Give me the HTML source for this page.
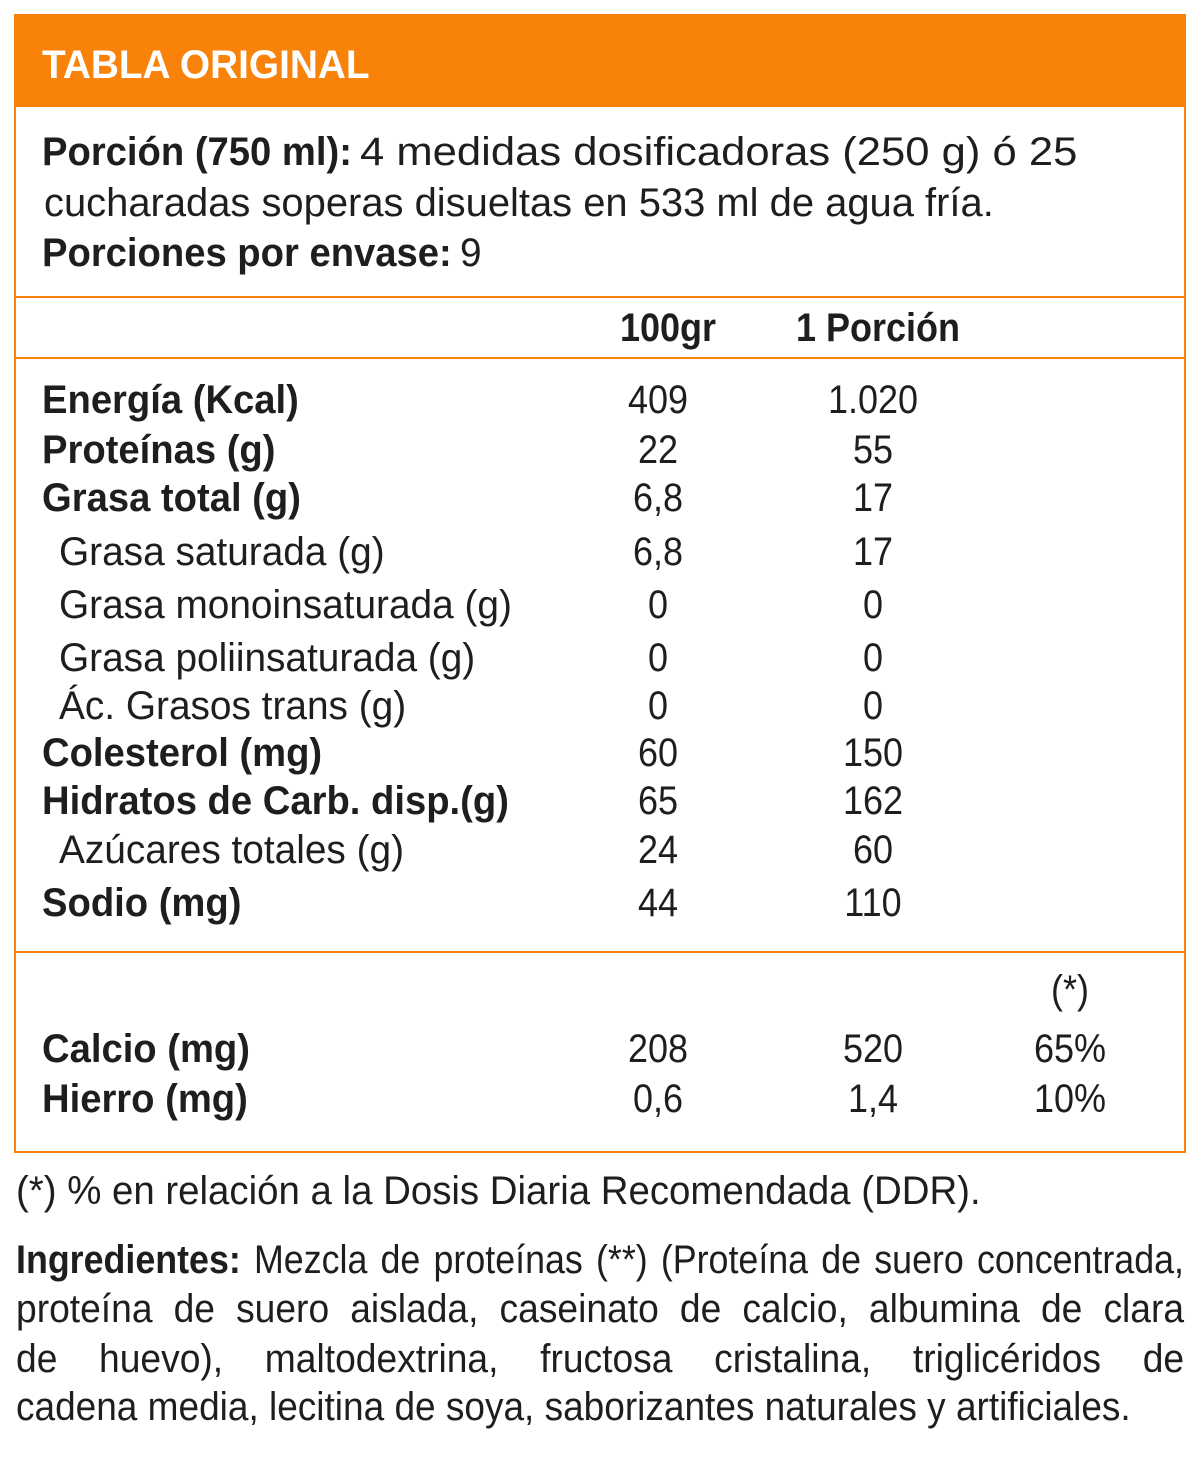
<!DOCTYPE html>
<html><head><meta charset="utf-8"><style>
body{margin:0;width:1200px;height:1457px;background:#fff;position:relative;overflow:hidden;font-family:"Liberation Sans",sans-serif;color:#1e1e1e}
.box{position:absolute;left:14px;top:14px;width:1168px;height:1135px;border:2px solid #f8820a}
.hdr{position:absolute;left:14px;top:14px;width:1172px;height:93px;background:#f8820a}
.hl{position:absolute;left:14px;width:1172px;height:2px;background:#f8820a}
.t{position:absolute;font-size:40px;line-height:46px;white-space:nowrap;transform-origin:0 50%;transform:scaleX(.97)}
.t.b{font-weight:bold;transform:scaleX(.955)}
.c{position:absolute;font-size:40px;line-height:46px;white-space:nowrap;transform:translateX(-50%) scaleX(.9)}
b{font-weight:bold}
.j{position:absolute;left:16px;width:1256px;font-size:40px;line-height:46px;transform-origin:0 50%;transform:scaleX(.93);text-align:justify;text-align-last:justify;white-space:nowrap}
</style></head><body>
<div class="hdr"></div>
<div class="box"></div>
<div class="t b" style="left:42px;top:42px;color:#fff;font-size:40px;transform:scaleX(.97)">TABLA ORIGINAL</div>
<div class="t b" style="left:42px;top:129px">Porción (750 ml):</div>
<div class="t" style="left:360px;top:129px;transform:scaleX(1.09)">4 medidas dosificadoras (250 g) ó 25</div>
<div class="t" style="left:44px;top:180px;transform:scaleX(.998)">cucharadas soperas disueltas en 533 ml de agua fría.</div>
<div class="t b" style="left:42px;top:230px">Porciones por envase:</div>
<div class="t" style="left:460px;top:230px">9</div>
<div class="hl" style="top:296px"></div>
<div class="c" style="left:668px;top:305px"><b>100gr</b></div>
<div class="c" style="left:878px;top:305px"><b>1 Porción</b></div>
<div class="hl" style="top:357px"></div>

<div class="t b" style="left:42px;top:377px">Energía (Kcal)</div><div class="c" style="left:658px;top:377px">409</div><div class="c" style="left:873px;top:377px">1.020</div>
<div class="t b" style="left:42px;top:427px">Proteínas (g)</div><div class="c" style="left:658px;top:427px">22</div><div class="c" style="left:873px;top:427px">55</div>
<div class="t b" style="left:42px;top:475px">Grasa total (g)</div><div class="c" style="left:658px;top:475px">6,8</div><div class="c" style="left:873px;top:475px">17</div>
<div class="t" style="left:59px;top:529px">Grasa saturada (g)</div><div class="c" style="left:658px;top:529px">6,8</div><div class="c" style="left:873px;top:529px">17</div>
<div class="t" style="left:59px;top:582px">Grasa monoinsaturada (g)</div><div class="c" style="left:658px;top:582px">0</div><div class="c" style="left:873px;top:582px">0</div>
<div class="t" style="left:59px;top:635px">Grasa poliinsaturada (g)</div><div class="c" style="left:658px;top:635px">0</div><div class="c" style="left:873px;top:635px">0</div>
<div class="t" style="left:59px;top:683px">Ác. Grasos trans (g)</div><div class="c" style="left:658px;top:683px">0</div><div class="c" style="left:873px;top:683px">0</div>
<div class="t b" style="left:42px;top:730px">Colesterol (mg)</div><div class="c" style="left:658px;top:730px">60</div><div class="c" style="left:873px;top:730px">150</div>
<div class="t b" style="left:42px;top:778px">Hidratos de Carb. disp.(g)</div><div class="c" style="left:658px;top:778px">65</div><div class="c" style="left:873px;top:778px">162</div>
<div class="t" style="left:59px;top:827px">Azúcares totales (g)</div><div class="c" style="left:658px;top:827px">24</div><div class="c" style="left:873px;top:827px">60</div>
<div class="t b" style="left:42px;top:880px">Sodio (mg)</div><div class="c" style="left:658px;top:880px">44</div><div class="c" style="left:873px;top:880px">110</div>
<div class="hl" style="top:951px"></div>
<div class="c" style="left:1070px;top:967px">(*)</div>
<div class="t b" style="left:42px;top:1026px">Calcio (mg)</div><div class="c" style="left:658px;top:1026px">208</div><div class="c" style="left:873px;top:1026px">520</div><div class="c" style="left:1070px;top:1026px">65%</div>
<div class="t b" style="left:42px;top:1076px">Hierro (mg)</div><div class="c" style="left:658px;top:1076px">0,6</div><div class="c" style="left:873px;top:1076px">1,4</div><div class="c" style="left:1070px;top:1076px">10%</div>

<div class="t" style="left:16px;top:1168px;transform:scaleX(.96)">(*) % en relación a la Dosis Diaria Recomendada (DDR).</div>
<div class="j" style="top:1237px;width:1305px;transform:scaleX(.895)"><b>Ingredientes:</b> Mezcla de proteínas (**) (Proteína de suero concentrada,</div>
<div class="j" style="top:1286px">proteína de suero aislada, caseinato de calcio, albumina de clara</div>
<div class="j" style="top:1336px">de huevo), maltodextrina, fructosa cristalina, triglicéridos de</div>
<div class="t" style="left:16px;top:1384px;transform:scaleX(.925)">cadena media, lecitina de soya, saborizantes naturales y artificiales.</div>
</body></html>
